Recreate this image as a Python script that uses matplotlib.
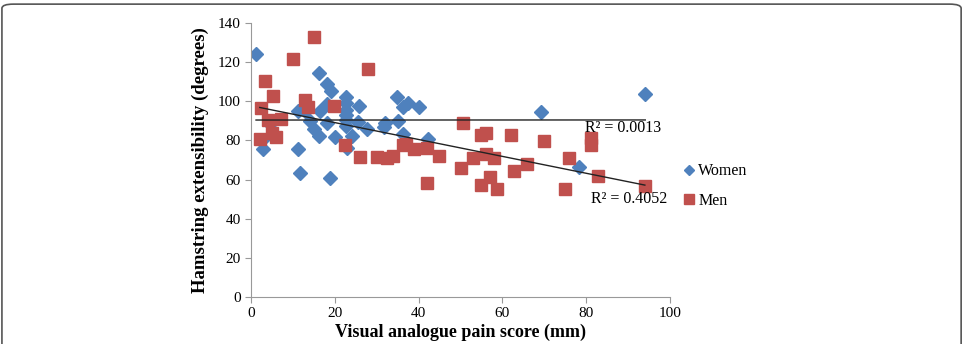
import matplotlib.pyplot as plt
import numpy as np
from matplotlib.patches import FancyBboxPatch

# Women (blue diamonds): pain score (mm), hamstring extensibility (degrees)
women_x = [1.2, 2.6, 2.9, 4.5, 11.1, 11.1, 11.7, 16.2, 18.2, 19.0, 18.2, 16.5,
           13.0, 14.2, 15.0, 16.2, 18.2, 20.0, 22.7, 22.7, 22.7, 22.7, 22.7,
           22.7, 22.9, 24.1, 25.8, 25.6, 27.6, 31.7, 32.1, 34.8, 36.2, 37.5,
           40.1, 35.2, 36.2, 42.2, 69.1, 94.1, 78.3, 18.9]
women_y = [124.0, 80.0, 75.6, 88.4, 95.2, 75.6, 63.5, 114.3, 108.7, 105.5, 98.6,
           94.9, 95.0, 90.0, 85.8, 82.4, 88.9, 81.6, 102.4, 99.0, 95.5, 93.0,
           90.5, 87.4, 76.0, 82.4, 97.4, 89.6, 85.7, 87.0, 89.0, 102.4, 97.2,
           99.0, 97.2, 90.1, 83.3, 80.7, 94.7, 103.6, 66.6, 60.6]

# Men (red squares)
men_x = [15.0, 10.1, 28.0, 3.3, 5.3, 13.0, 13.5, 19.9, 2.4, 4.1, 7.1, 2.1, 5.1,
         6.0, 22.4, 25.9, 30.0, 32.4, 34.0, 36.2, 37.0, 39.0, 42.1, 44.9, 50.5,
         54.9, 56.1, 62.0, 53.1, 56.1, 58.1, 50.1, 62.8, 65.8, 42.1, 57.0, 54.9,
         58.6, 70.0, 76.0, 81.1, 81.1, 82.9, 74.9, 94.0]
men_y = [132.7, 121.4, 116.5, 110.5, 102.7, 100.7, 97.2, 97.7, 96.7, 90.4, 91.0,
         80.7, 83.6, 81.6, 77.7, 71.7, 71.7, 70.9, 72.0, 77.7, 78.2, 75.6, 76.0,
         72.0, 88.7, 82.8, 83.6, 82.8, 70.9, 72.9, 70.9, 65.8, 64.5, 68.0, 58.1,
         61.2, 57.2, 55.0, 79.9, 70.9, 81.1, 77.7, 62.0, 55.0, 56.9]

r2_women = "R² = 0.0013"
r2_men = "R² = 0.4052"

blue = "#4F81BD"
red = "#C0504D"
serif = ["Liberation Serif", "DejaVu Serif"]

fig = plt.figure(figsize=(9.65, 3.44), dpi=100)
fig.patches.append(FancyBboxPatch((0.002, -0.2), 0.994, 1.188,
                                  boxstyle="round,pad=0,rounding_size=0.012",
                                  transform=fig.transFigure, fill=False,
                                  edgecolor="#555555", linewidth=1.2))

ax = fig.add_axes([0.2601, 0.1366, 0.4342, 0.7965])

ax.plot(women_x, women_y, linestyle="none", marker="D", markersize=6.8,
        color=blue, label="Women")
ax.plot(men_x, men_y, linestyle="none", marker="s", markersize=8.5,
        color=red, label="Men")

# linear trendlines
for xs, ys in [(women_x, women_y), (men_x, men_y)]:
    xs = np.array(xs)
    k, b = np.polyfit(xs, ys, 1)
    xl = np.array([xs.min(), xs.max()])
    ax.plot(xl, k * xl + b, color="#222222", linewidth=1.0)

ax.text(79.7, 86.4, r2_women, fontsize=11.5, family=serif, va="center")
ax.text(81.1, 50.0, r2_men, fontsize=11.5, family=serif, va="center")

ax.set_xlim(0, 100)
ax.set_ylim(0, 140)
ax.set_xticks(range(0, 101, 20))
ax.set_yticks(range(0, 141, 20))
for s in ["top", "right"]:
    ax.spines[s].set_visible(False)
for s in ["left", "bottom"]:
    ax.spines[s].set_color("#999999")
ax.tick_params(direction="out", length=4, color="#999999", labelsize=11)
for lab in ax.get_xticklabels() + ax.get_yticklabels():
    lab.set_family(serif)

ax.set_xlabel("Visual analogue pain score (mm)", fontsize=13, fontweight="bold",
              family=serif, labelpad=2)
ax.set_ylabel("Hamstring extensibility (degrees)", fontsize=13.5, fontweight="bold",
              family=serif, labelpad=6)

leg = ax.legend(loc="center left", bbox_to_anchor=(0.995, 0.405), frameon=False,
                prop={"family": serif, "size": 11.5}, handletextpad=0.1,
                handlelength=0.9, labelspacing=0.85, markerscale=0.8)

fig.savefig("out.png", dpi=100)
